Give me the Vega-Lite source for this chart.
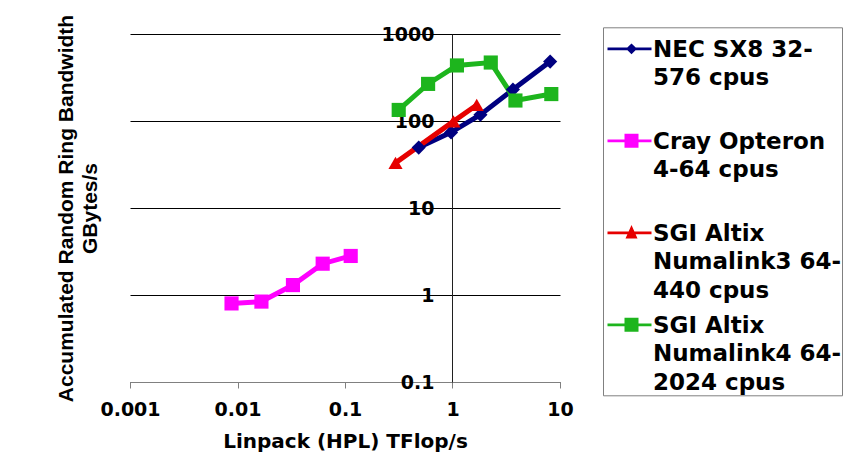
{
  "$schema": "https://vega.github.io/schema/vega-lite/v6.json",
  "width": 430,
  "height": 348,
  "autosize": "none",
  "padding": {"left": 130, "top": 34, "right": 290, "bottom": 84},
  "background": "white",
  "config": {"view": {"stroke": null}},
  "data": {
    "values": [
      {"system": "NEC SX8 32-576 cpus", "tflops": 0.485, "bw": 49.5},
      {"system": "NEC SX8 32-576 cpus", "tflops": 0.97, "bw": 74},
      {"system": "NEC SX8 32-576 cpus", "tflops": 1.82, "bw": 118},
      {"system": "NEC SX8 32-576 cpus", "tflops": 3.65, "bw": 230},
      {"system": "NEC SX8 32-576 cpus", "tflops": 8.1, "bw": 482},
      {"system": "Cray Opteron 4-64 cpus", "tflops": 0.0088, "bw": 0.80},
      {"system": "Cray Opteron 4-64 cpus", "tflops": 0.0167, "bw": 0.84},
      {"system": "Cray Opteron 4-64 cpus", "tflops": 0.0328, "bw": 1.30},
      {"system": "Cray Opteron 4-64 cpus", "tflops": 0.062, "bw": 2.29},
      {"system": "Cray Opteron 4-64 cpus", "tflops": 0.113, "bw": 2.81},
      {"system": "SGI Altix Numalink3 64-440 cpus", "tflops": 0.295, "bw": 33},
      {"system": "SGI Altix Numalink3 64-440 cpus", "tflops": 1.02, "bw": 99},
      {"system": "SGI Altix Numalink3 64-440 cpus", "tflops": 1.68, "bw": 153},
      {"system": "SGI Altix Numalink4 64-2024 cpus", "tflops": 0.316, "bw": 134},
      {"system": "SGI Altix Numalink4 64-2024 cpus", "tflops": 0.593, "bw": 267},
      {"system": "SGI Altix Numalink4 64-2024 cpus", "tflops": 1.1, "bw": 435},
      {"system": "SGI Altix Numalink4 64-2024 cpus", "tflops": 2.27, "bw": 470},
      {"system": "SGI Altix Numalink4 64-2024 cpus", "tflops": 3.85, "bw": 172},
      {"system": "SGI Altix Numalink4 64-2024 cpus", "tflops": 8.3, "bw": 204}
    ]
  },
  "layer": [
    {
      "mark": {"type": "line", "strokeWidth": 5},
      "encoding": {
        "x": {
          "field": "tflops", "type": "quantitative",
          "scale": {"type": "log", "domain": [0.001, 10]},
          "axis": {
            "values": [0.001, 0.01, 0.1, 1, 10], "grid": false,
            "domainColor": "#808080", "domainWidth": 1, "tickColor": "#808080", "tickSize": 6,
            "labelFont": "DejaVu Sans", "labelFontSize": 19, "labelFontWeight": "bold", "labelColor": "black",
            "labelPadding": 12, "labelFlush": false, "labelOverlap": false, "labelExpr": "'' + datum.value",
            "title": "Linpack (HPL) TFlop/s", "titleFont": "DejaVu Sans", "titleFontSize": 20,
            "titleFontWeight": "bold", "titleColor": "black", "titlePadding": 12
          }
        },
        "y": {
          "field": "bw", "type": "quantitative",
          "scale": {"type": "log", "domain": [0.1, 1000]},
          "axis": {
            "orient": "left", "values": [0.1, 1, 10, 100, 1000],
            "grid": true, "gridColor": "black", "gridWidth": 1, "gridOpacity": 1,
            "labels": false, "ticks": false, "domain": false,
            "title": ["Accumulated Random Ring Bandwidth", "GBytes/s"],
            "titleFont": "Liberation Sans", "titleFontSize": 21, "titleFontWeight": "bold",
            "titleColor": "black", "titlePadding": 30, "titleLineHeight": 24
          }
        },
        "color": {
          "field": "system", "type": "nominal",
          "scale": {
            "domain": ["NEC SX8 32-576 cpus", "Cray Opteron 4-64 cpus", "SGI Altix Numalink3 64-440 cpus", "SGI Altix Numalink4 64-2024 cpus"],
            "range": ["#000080", "#ff00ff", "#e60000", "#1db51d"]
          }
        }
      }
    },
    {
      "mark": {"type": "point", "filled": true, "opacity": 1, "size": 200},
      "encoding": {
        "x": {
          "field": "tflops", "type": "quantitative",
          "scale": {"type": "log", "domain": [0.001, 10]},
          "axis": {
            "values": [0.001, 0.01, 0.1, 1, 10], "grid": false,
            "domainColor": "#808080", "domainWidth": 1, "tickColor": "#808080", "tickSize": 6,
            "labelFont": "DejaVu Sans", "labelFontSize": 19, "labelFontWeight": "bold", "labelColor": "black",
            "labelPadding": 12, "labelFlush": false, "labelOverlap": false, "labelExpr": "'' + datum.value",
            "title": "Linpack (HPL) TFlop/s", "titleFont": "DejaVu Sans", "titleFontSize": 20,
            "titleFontWeight": "bold", "titleColor": "black", "titlePadding": 12
          }
        },
        "y": {
          "field": "bw", "type": "quantitative",
          "scale": {"type": "log", "domain": [0.1, 1000]},
          "axis": {
            "orient": "left", "offset": -322, "values": [0.1, 1, 10, 100, 1000],
            "grid": false, "domain": true, "domainColor": "#202020", "domainWidth": 1, "ticks": false,
            "labelFont": "DejaVu Sans", "labelFontSize": 19, "labelFontWeight": "bold", "labelColor": "black",
            "labelPadding": 18, "labelOverlap": false, "labelFlush": false, "labelExpr": "'' + datum.value",
            "title": null
          }
        },
        "color": {
          "field": "system", "type": "nominal",
          "scale": {
            "domain": ["NEC SX8 32-576 cpus", "Cray Opteron 4-64 cpus", "SGI Altix Numalink3 64-440 cpus", "SGI Altix Numalink4 64-2024 cpus"],
            "range": ["#000080", "#ff00ff", "#e60000", "#1db51d"]
          },
          "legend": {
            "title": null, "orient": "none", "legendX": 473, "legendY": -6.7,
            "strokeColor": "#808080", "fillColor": "white", "padding": 0,
            "symbolSize": 100, "symbolStrokeWidth": 0, "symbolOpacity": 1,
            "symbolType": "M-1.4,1.72H7.4V2.28H-1.4Z M2,0.6H4.8V3.4H2Z",
            "labelFont": "DejaVu Sans", "labelFontSize": 23, "labelFontWeight": "bold", "labelColor": "black",
            "labelBaseline": "top", "labelOffset": 27, "labelLimit": 300,
            "gridAlign": "all", "rowPadding": 0,
            "labelExpr": "datum.label == 'NEC SX8 32-576 cpus' ? ['NEC SX8 32-', '576 cpus'] : datum.label == 'Cray Opteron 4-64 cpus' ? ['Cray Opteron', '4-64 cpus'] : datum.label == 'SGI Altix Numalink3 64-440 cpus' ? ['SGI Altix', 'Numalink3 64-', '440 cpus'] : ['SGI Altix', 'Numalink4 64-', '2024 cpus']",
            "encode": {
              "symbols": {
                "update": {
                  "shape": {"signal": "datum.value == 'NEC SX8 32-576 cpus' ? 'M-1.4,1.72H7.4V2.28H-1.4Z M3.4,0.93L4.5,2L3.4,3.07L2.3,2Z' : datum.value == 'SGI Altix Numalink3 64-440 cpus' ? 'M-1.4,1.72H7.4V2.28H-1.4Z M3.4,0.46L4.6,3.12H2.2Z' : 'M-1.4,1.72H7.4V2.28H-1.4Z M2,0.6H4.8V3.4H2Z'"}
                }
              },
              "labels": {
                "update": {
                  "lineHeight": {"value": 28.5}
                }
              }
            }
          }
        },
        "shape": {
          "field": "system", "type": "nominal",
          "scale": {
            "range": ["square", "diamond", "triangle-up", "square"]
          },
          "legend": null
        }
      }
    }
  ],
  "resolve": {"axis": {"y": "independent"}}
}
